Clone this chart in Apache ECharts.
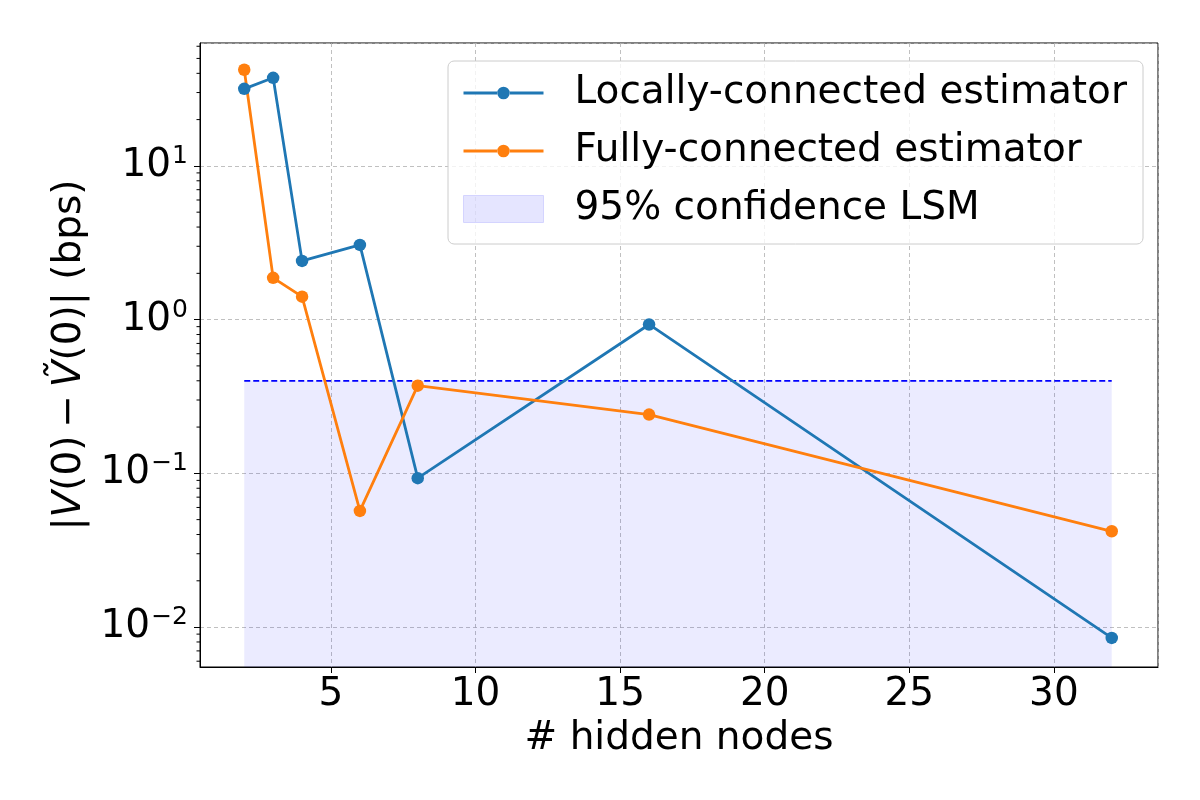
<!DOCTYPE html>
<html>
<head>
<meta charset="utf-8">
<script src="https://cdn.jsdelivr.net/npm/echarts@6/dist/echarts.min.js"></script>
<style>
  html, body { margin: 0; padding: 0; background: #fff; }
  #chart { width: 1200px; height: 800px; }
</style>
</head>
<body>
<div id="chart"></div>
<script>
  // hidden node counts
  var hiddenNodes = [2, 3, 4, 6, 8, 16, 32];
  // |V(0) - V~(0)| in bps
  var locallyConnected = [31.7, 37.4, 2.41, 3.06, 0.093, 0.93, 0.0085];
  var fullyConnected = [42.2, 1.87, 1.41, 0.057, 0.372, 0.241, 0.042];
  // 95% confidence band of LSM
  var lsmX = [2, 32];
  var lsmLevel = 0.40;
  var yMinorTicks = [0.006, 0.007, 0.008, 0.009, 0.02, 0.03, 0.04, 0.05, 0.06, 0.07, 0.08, 0.09,
    0.2, 0.3, 0.4, 0.5, 0.6, 0.7, 0.8, 0.9, 2, 3, 4, 5, 6, 7, 8, 9, 20, 30, 40, 50, 60];

  var chart = echarts.init(document.getElementById('chart'));
  var font = 'DejaVu Sans';

  function pair(xs, ys) {
    return xs.map(function (x, i) { return [x, ys[i]]; });
  }

  // legend icon: line with a dot in the middle (80 x 27 box)
  var lineDotIcon = 'path://M0 12H33.5V15H0Z M46.5 12H80V15H46.5Z M46.3 13.5A6.3 6.3 0 1 1 33.7 13.5A6.3 6.3 0 1 1 46.3 13.5Z';

  var option = {
    animation: false,
    textStyle: { fontFamily: font },
    grid: {
      left: 200, right: 42, top: 43, bottom: 133,
      show: true, borderColor: '#000', borderWidth: 1
    },
    legend: {
      orient: 'vertical',
      left: 448, top: 61,
      padding: [10, 16, 13, 15],
      backgroundColor: 'rgba(255,255,255,0.8)',
      borderColor: '#cccccc', borderWidth: 1, borderRadius: 6,
      itemWidth: 80, itemHeight: 27, itemGap: 14,
      textStyle: { fontSize: 39, color: '#000', lineHeight: 44, padding: [0, 0, 0, 26] },
      data: [
        { name: 'Locally-connected estimator', icon: lineDotIcon, itemStyle: { color: '#1f77b4' } },
        { name: 'Fully-connected estimator', icon: lineDotIcon, itemStyle: { color: '#ff7f0e' } },
        { name: '95% confidence LSM', icon: 'rect', itemStyle: { color: 'rgba(0,0,255,0.1)', borderColor: 'rgba(0,0,255,0.12)', borderWidth: 1 } }
      ]
    },
    xAxis: {
      type: 'value',
      min: 0.47, max: 33.6,
      splitNumber: 6,
      name: '# hidden nodes',
      nameLocation: 'middle', nameGap: 52,
      nameTextStyle: { fontSize: 39, color: '#000' },
      axisLine: { show: true, lineStyle: { color: '#000', width: 1 } },
      axisTick: { show: true, length: 6, lineStyle: { color: '#000' } },
      axisLabel: {
        fontSize: 39, color: '#000', margin: 8,
        showMinLabel: false, showMaxLabel: false,
        formatter: function (v) { return (Math.abs(v % 5) < 1e-6) ? String(v) : ''; }
      },
      splitLine: { show: true, lineStyle: { color: '#b0b0b0', type: [4, 3], width: 0.8 } }
    },
    yAxis: {
      type: 'log',
      logBase: 10,
      min: 0.0055, max: 63,
      name: '{n||}{i|V}{n|(0)\u2009\u2212\u2009}{i|\u1E7C}{n|(0)| (bps)}',
      nameLocation: 'middle', nameGap: 111,
      nameTextStyle: {
        fontSize: 39, color: '#000',
        rich: {
          n: { fontSize: 39, color: '#000', fontFamily: font },
          i: { fontSize: 39, fontStyle: 'italic', color: '#000', fontFamily: font }
        }
      },
      axisLine: { show: true, lineStyle: { color: '#000', width: 1 } },
      axisTick: { show: true, length: 6, lineStyle: { color: '#000' } },
      axisLabel: {
        color: '#000', margin: 12,
        showMinLabel: false, showMaxLabel: false,
        formatter: function (v) {
          var e = Math.log10(v);
          if (Math.abs(e - Math.round(e)) > 1e-6) return '';
          e = Math.round(e);
          return '{b|10}{s|' + (e < 0 ? '\u2212' + (-e) : e) + '}';
        },
        rich: {
          b: { fontSize: 39, color: '#000', lineHeight: 44 },
          s: { fontSize: 25, color: '#000', verticalAlign: 'top', lineHeight: 44, padding: [0, 0, 0, 1] }
        }
      },
      splitLine: { show: true, lineStyle: { color: '#b0b0b0', type: [4, 3], width: 0.8 } }
    },
    series: [
      {
        name: '95% confidence LSM',
        type: 'line',
        data: pair(lsmX, [lsmLevel, lsmLevel]),
        symbol: 'none',
        lineStyle: { color: '#0000ff', type: [6, 3], width: 1.8 },
        itemStyle: { color: 'rgba(0,0,255,0.1)' },
        areaStyle: { color: 'rgba(0,0,255,0.11)', origin: 'start' },
        z: 1
      },
      {
        name: 'Locally-connected estimator',
        type: 'line',
        data: pair(hiddenNodes, locallyConnected),
        symbol: 'circle', symbolSize: 12.5,
        lineStyle: { color: '#1f77b4', width: 2.8 },
        itemStyle: { color: '#1f77b4' },
        z: 3
      },
      {
        name: 'Fully-connected estimator',
        type: 'line',
        data: pair(hiddenNodes, fullyConnected),
        symbol: 'circle', symbolSize: 12.5,
        lineStyle: { color: '#ff7f0e', width: 2.8 },
        itemStyle: { color: '#ff7f0e' },
        z: 3
      },
      {
        // minor ticks of the log axis
        type: 'custom',
        silent: true,
        clip: false,
        data: yMinorTicks.map(function (v) { return [0.47, v]; }),
        renderItem: function (params, api) {
          var p = api.coord([api.value(0), api.value(1)]);
          var left = params.coordSys.x;
          return {
            type: 'line',
            shape: { x1: left - 3.5, y1: p[1], x2: left, y2: p[1] },
            style: { stroke: '#000', lineWidth: 1 }
          };
        },
        z: 4
      }
    ]
  };

  chart.setOption(option);
</script>
</body>
</html>
